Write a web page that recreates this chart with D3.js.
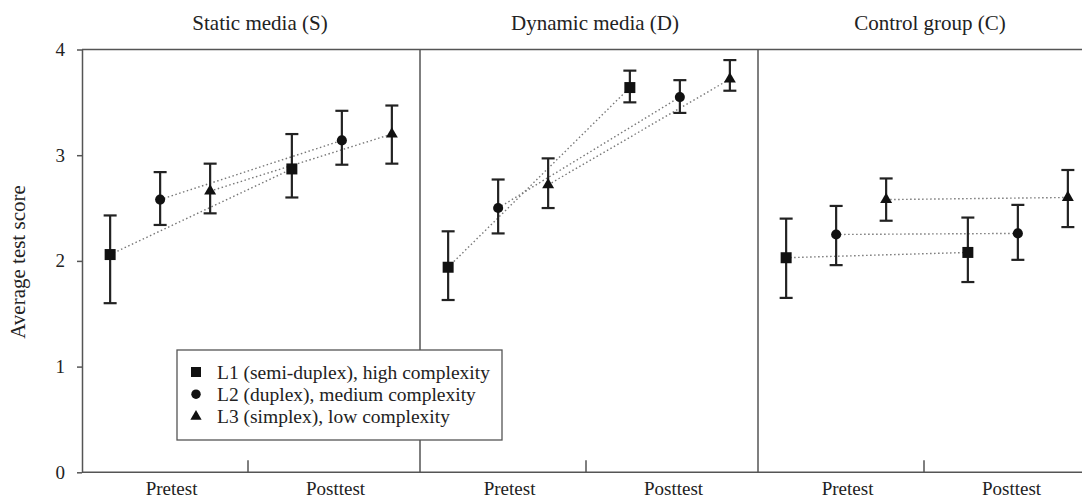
<!DOCTYPE html>
<html>
<head>
<meta charset="utf-8">
<script src="https://cdn.jsdelivr.net/npm/d3@7"></script>
<style>
  body { margin: 0; background: #fff; }
  svg { display: block; font-family: "Liberation Serif", "Times New Roman", serif; }
</style>
</head>
<body>
<svg id="chart"></svg>
<script>
const groups = ["Static media (S)", "Dynamic media (D)", "Control group (C)"];
const times = ["Pretest", "Posttest"];
const levels = ["L1 (semi-duplex), high complexity", "L2 (duplex), medium complexity", "L3 (simplex), low complexity"];
const yTicks = [0, 1, 2, 3, 4];

// [level][pretest, posttest]
const staticMean = [[2.06, 2.87], [2.58, 3.14], [2.66, 3.20]];
const staticLow  = [[1.60, 2.60], [2.34, 2.91], [2.45, 2.92]];
const staticHigh = [[2.43, 3.20], [2.84, 3.42], [2.92, 3.47]];

const dynamicMean = [[1.94, 3.64], [2.50, 3.55], [2.72, 3.72]];
const dynamicLow  = [[1.63, 3.50], [2.26, 3.40], [2.50, 3.61]];
const dynamicHigh = [[2.28, 3.80], [2.77, 3.71], [2.97, 3.90]];

const controlMean = [[2.03, 2.08], [2.25, 2.26], [2.58, 2.60]];
const controlLow  = [[1.65, 1.80], [1.96, 2.01], [2.38, 2.32]];
const controlHigh = [[2.40, 2.41], [2.52, 2.53], [2.78, 2.86]];

const means = [staticMean, dynamicMean, controlMean];
const lows = [staticLow, dynamicLow, controlLow];
const highs = [staticHigh, dynamicHigh, controlHigh];

const w = 1082;
const h = 500;
const left = 82;
const panelW = 338;

const svg = d3.select("#chart")
              .attr("width", w)
              .attr("height", h);

const panelX = d3.scaleBand()
                 .domain(groups)
                 .range([left, left + panelW * groups.length]);

const timeX = d3.scalePoint()
                .domain(times)
                .range([0, panelW])
                .padding(0.43);

const levelX = d3.scalePoint()
                 .domain(levels)
                 .range([-50, 50]);

const labelX = d3.scalePoint()
                 .domain(times)
                 .range([panelW * 0.265, panelW * 0.75]);

const y = d3.scaleLinear()
            .domain([0, 4])
            .range([472.3, 49.5]);

const shapes = [d3.symbolSquare, d3.symbolCircle, d3.symbolTriangle];
const shapeSize = [121, 80, 62];

const rows = [];
groups.forEach((g, gi) => {
  levels.forEach((l, li) => {
    times.forEach((t, ti) => {
      rows.push({
        group: g, level: l, li: li, time: t,
        mean: means[gi][li][ti],
        low: lows[gi][li][ti],
        high: highs[gi][li][ti]
      });
    });
  });
});

const xPos = d => panelX(d.group) + timeX(d.time) + levelX(d.level);

const lineColor = "#555";

// frame
svg.append("line")
   .attr("x1", left).attr("x2", left + panelW * groups.length)
   .attr("y1", y(4)).attr("y2", y(4))
   .attr("stroke", lineColor).attr("stroke-width", 1.5);

svg.append("line")
   .attr("x1", left).attr("x2", left + panelW * groups.length)
   .attr("y1", y(0)).attr("y2", y(0))
   .attr("stroke", lineColor).attr("stroke-width", 1.5);

svg.selectAll(".divider")
   .data(groups.slice(1))
   .enter()
   .append("line")
   .attr("class", "divider")
   .attr("x1", d => panelX(d)).attr("x2", d => panelX(d))
   .attr("y1", y(4)).attr("y2", y(0))
   .attr("stroke", lineColor).attr("stroke-width", 1.5);

svg.selectAll(".midtick")
   .data(groups)
   .enter()
   .append("line")
   .attr("class", "midtick")
   .attr("x1", d => panelX(d) + panelW / 2 - 3).attr("x2", d => panelX(d) + panelW / 2 - 3)
   .attr("y1", y(0)).attr("y2", y(0) - 12)
   .attr("stroke", lineColor).attr("stroke-width", 1.5);

// y axis
const yAxis = svg.append("g")
                 .attr("transform", `translate(${left},0)`)
                 .call(d3.axisLeft(y).tickValues(yTicks).tickFormat(d3.format("d"))
                                      .tickSize(5).tickSizeOuter(0).tickPadding(12));
yAxis.select(".domain").attr("stroke", lineColor).attr("stroke-width", 1.5);
yAxis.selectAll(".tick line").attr("stroke", lineColor).attr("stroke-width", 1.5);
yAxis.selectAll(".tick text")
     .attr("font-family", "Liberation Serif, Times New Roman, serif")
     .attr("font-size", 19)
     .attr("fill", "#222");

svg.append("text")
   .attr("transform", `translate(25,262) rotate(-90)`)
   .attr("text-anchor", "middle")
   .attr("font-size", 21)
   .attr("fill", "#222")
   .text("Average test score");

// panel titles
svg.selectAll(".title")
   .data(groups)
   .enter()
   .append("text")
   .attr("class", "title")
   .attr("x", (d, i) => panelX(d) + panelW / 2 + 9 - i * 3)
   .attr("y", 30)
   .attr("text-anchor", "middle")
   .attr("font-size", 21)
   .attr("fill", "#222")
   .text(d => d);

// time labels
const timeLabels = [];
groups.forEach(g => times.forEach(t => timeLabels.push({ group: g, time: t })));
svg.selectAll(".timelabel")
   .data(timeLabels)
   .enter()
   .append("text")
   .attr("class", "timelabel")
   .attr("x", d => panelX(d.group) + labelX(d.time))
   .attr("y", 495)
   .attr("text-anchor", "middle")
   .attr("font-size", 19)
   .attr("fill", "#222")
   .text(d => d.time);

// dotted connectors
const pairs = d3.groups(rows, d => d.group, d => d.level);
const connectors = [];
pairs.forEach(([g, byLevel]) => byLevel.forEach(([l, pts]) => connectors.push(pts)));

svg.selectAll(".connector")
   .data(connectors)
   .enter()
   .append("path")
   .attr("class", "connector")
   .attr("d", d3.line().x(xPos).y(d => y(d.mean)))
   .attr("fill", "none")
   .attr("stroke", "#777")
   .attr("stroke-width", 1.4)
   .attr("stroke-dasharray", "1.5,2.5");

// error bars
const bars = svg.selectAll(".errbar")
                .data(rows)
                .enter()
                .append("g")
                .attr("class", "errbar")
                .attr("stroke", "#222")
                .attr("stroke-width", 2.2);

bars.append("line")
    .attr("x1", xPos).attr("x2", xPos)
    .attr("y1", d => y(d.low)).attr("y2", d => y(d.high));
bars.append("line")
    .attr("x1", d => xPos(d) - 6.5).attr("x2", d => xPos(d) + 6.5)
    .attr("y1", d => y(d.low)).attr("y2", d => y(d.low));
bars.append("line")
    .attr("x1", d => xPos(d) - 6.5).attr("x2", d => xPos(d) + 6.5)
    .attr("y1", d => y(d.high)).attr("y2", d => y(d.high));

// markers
svg.selectAll(".marker")
   .data(rows)
   .enter()
   .append("path")
   .attr("class", "marker")
   .attr("transform", d => `translate(${xPos(d)},${y(d.mean)})`)
   .attr("d", d => d3.symbol().type(shapes[d.li]).size(shapeSize[d.li])())
   .attr("fill", "#111");

// legend
const legend = svg.append("g")
                  .attr("transform", "translate(177,350)");

legend.append("rect")
      .attr("width", 325)
      .attr("height", 90)
      .attr("fill", "#fff")
      .attr("stroke", lineColor)
      .attr("stroke-width", 1.3);

const legendItems = legend.selectAll(".legend-item")
                          .data(levels)
                          .enter()
                          .append("g")
                          .attr("class", "legend-item")
                          .attr("transform", (d, i) => `translate(0,${22 + i * 22.2})`);

legendItems.append("path")
           .attr("transform", "translate(19,0)")
           .attr("d", (d, i) => d3.symbol().type(shapes[i]).size([100, 70, 55][i])())
           .attr("fill", "#111");

legendItems.append("text")
           .attr("x", 40)
           .attr("y", 6.5)
           .attr("font-size", 19.5)
           .attr("fill", "#222")
           .text(d => d);
</script>
</body>
</html>
